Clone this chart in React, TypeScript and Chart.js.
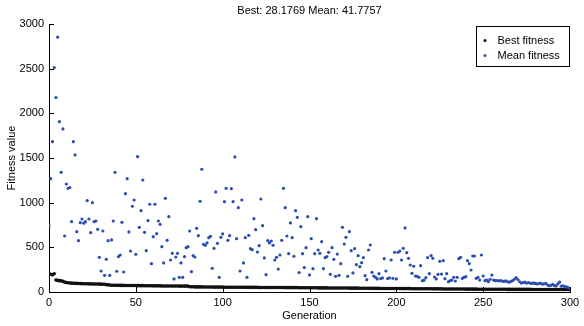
import React, { useEffect, useRef } from "react";
import { Chart, registerables } from "chart.js";

Chart.register(...registerables);

const TITLE = "Best: 28.1769 Mean: 41.7757";
const X_LABEL = "Generation";
const Y_LABEL = "Fitness value";
const LEGEND_LABELS = ["Best fitness", "Mean fitness"];
const X_TICKS = [0, 50, 100, 150, 200, 250, 300];
const Y_TICKS = [0, 500, 1000, 1500, 2000, 2500, 3000];

const meanFitness: number[] = [
  742, 1269, 1683, 2512, 2176, 2852, 1907, 1340, 1825, 627,
  1209, 1161, 1170, 787, 1683, 1534, 675, 575, 776, 817,
  770, 787, 1023, 817, 664, 1000, 787, 795, 702, 388,
  235, 683, 187, 366, 575, 187, 583, 795, 1340, 232,
  396, 414, 780, 224, 1101, 1269, 672, 459, 960, 1030,
  422, 1515, 724, 910, 1254, 668, 463, 799, 982, 317,
  619, 982, 653, 795, 758, 507, 325, 1049, 579, 843,
  358, 433, 146, 392, 433, 164, 325, 164, 396, 496,
  507, 683, 227, 407, 392, 713, 630, 1015, 1374, 534,
  523, 549, 608, 623, 265, 489, 1120, 545, 164, 612,
  650, 1011, 1161, 579, 630, 1157, 1011, 1512, 597, 944,
  235, 1030, 325, 608, 164, 634, 485, 474, 821, 698,
  448, 519, 1041, 743, 381, 194, 575, 549, 571, 523,
  358, 388, 257, 414, 579, 1161, 944, 627, 429, 773,
  608, 400, 910, 836, 217, 731, 429, 273, 496, 843,
  191, 597, 261, 429, 821, 470, 433, 563, 261, 384,
  396, 444, 198, 496, 366, 176, 425, 187, 317, 724,
  537, 612, 176, 675, 463, 213, 485, 306, 407, 284,
  328, 384, 183, 138, 470, 526, 220, 179, 164, 146,
  205, 150, 157, 373, 235, 150, 157, 358, 153, 444,
  146, 444, 459, 358, 489, 717, 440, 377, 302, 209,
  288, 179, 175, 164, 295, 127, 134, 160, 384, 205,
  407, 377, 168, 146, 198, 343, 201, 351, 149, 205,
  116, 127, 134, 164, 123, 164, 373, 388, 153, 164,
  172, 351, 317, 246, 403, 403, 153, 164, 134, 414,
  179, 127, 134, 116, 142, 190, 134, 128, 128, 125,
  128, 122, 118, 125, 115, 110, 120, 128, 145, 160,
  140, 115, 100, 105, 110, 98, 105, 100, 95, 102,
  96, 90, 95, 100, 88, 92, 98, 80, 70, 75,
  85, 72, 68, 90, 110, 65, 70, 60, 58, 50,
  41.7757,
];

const bestFitness: number[] = [
  205, 198, 192, 205,
  135, 130, 127, 124, 120,
  110, 106, 103, 101, 99, 98, 97, 96, 95, 94, 94, 93,
  92, 92, 91, 91, 90, 90, 89, 89, 88, 88, 87, 86, 82, 80, 78,
  76, 76, 75, 75, 75, 74, 74, 74, 73, 73,
  73, 72, 72, 72, 72, 71, 71, 71, 71, 70,
  70, 70, 70, 70, 69, 69, 69, 69, 69, 68,
  68, 68, 68, 68, 67, 67, 67, 67, 67, 66,
  66, 66, 66, 66, 66,
  58, 58, 58, 57, 57, 57, 57, 57, 56, 56,
  56, 56, 56, 56, 55, 55, 55, 55, 55, 55,
  54, 54, 54, 54, 54, 54, 53, 53, 53, 53,
  53, 53, 53, 52, 52, 52, 52, 52, 52, 52,
  51, 51, 51, 51, 51, 51, 51, 50, 50, 50,
  50, 50, 50, 50, 50, 49, 49, 49, 49, 49,
  49, 49, 49, 48, 48, 48, 48, 48, 48, 48,
  47, 47, 47, 47, 46, 46, 46, 46, 46, 46,
  45, 45, 45, 45, 45, 45, 44, 44, 44, 44,
  44, 44, 43, 43, 43, 43, 43, 43, 42, 42,
  42, 42, 42, 42, 41, 41, 41, 41, 41, 41,
  40, 40, 40, 40, 40, 40, 39, 39, 39, 39,
  39, 39, 38, 38, 38, 38, 38, 38, 37, 37,
  37, 37, 37, 37, 36, 36, 36, 36, 36, 36,
  35, 35, 35, 35, 35, 35, 34, 34, 34, 34,
  34, 34, 33, 33, 33, 33, 33, 33, 33, 32,
  32, 32, 32, 32, 32, 32, 31, 31, 31, 31,
  31, 31, 31, 31, 30, 30, 30, 30, 30, 30,
  30, 30, 30, 29, 29, 29, 29, 29, 29, 29,
  29, 29, 29, 29, 29, 29, 28.9, 28.8, 28.7, 28.6,
  28.6, 28.5, 28.5, 28.4, 28.4, 28.4, 28.3, 28.3, 28.3, 28.3,
  28.3, 28.2, 28.2, 28.2, 28.2, 28.2, 28.2, 28.2, 28.2, 28.1769,
];

const BLUE = "#2b4fae";
const BLACK = "#111111";
const FONT = "'Liberation Sans', Arial, sans-serif";

const toPoints = (vals: number[]) => vals.map((v, i) => ({ x: i, y: v }));

const decorPlugin = {
  id: "matlabDecor",
  afterDraw(chart: any) {
    const ctx = chart.ctx as CanvasRenderingContext2D;
    const area = chart.chartArea;
    const xs = chart.scales.x;
    const ys = chart.scales.y;
    ctx.save();
    ctx.strokeStyle = "#000";
    ctx.lineWidth = 1;
    ctx.beginPath();
    for (const t of X_TICKS) {
      const px = Math.round(xs.getPixelForValue(t)) + 0.5;
      ctx.moveTo(px, area.bottom);
      ctx.lineTo(px, area.bottom - 5);
    }
    for (const t of Y_TICKS) {
      const py = Math.round(ys.getPixelForValue(t)) + 0.5;
      ctx.moveTo(area.left, py);
      ctx.lineTo(area.left + 5, py);
    }
    ctx.stroke();

    ctx.fillStyle = "#000";
    ctx.font = `11px ${FONT}`;
    ctx.textAlign = "center";
    ctx.textBaseline = "middle";
    ctx.fillText(TITLE, (area.left + area.right) / 2, 11);
    ctx.fillText(X_LABEL, (area.left + area.right) / 2, 316);
    ctx.save();
    ctx.translate(12, (area.top + area.bottom) / 2);
    ctx.rotate(-Math.PI / 2);
    ctx.fillText(Y_LABEL, 0, 0);
    ctx.restore();

    const lx = 476.5, ly = 26.5, lw = 93, lh = 40;
    ctx.fillStyle = "#fff";
    ctx.fillRect(lx, ly, lw, lh);
    ctx.strokeStyle = "#000";
    ctx.strokeRect(lx, ly, lw, lh);
    const colors = [BLACK, BLUE];
    LEGEND_LABELS.forEach((lab, i) => {
      const y = ly + 14 + i * 15;
      ctx.fillStyle = colors[i];
      ctx.beginPath();
      ctx.arc(lx + 8.5, y, 1.5, 0, Math.PI * 2);
      ctx.fill();
      ctx.fillStyle = "#000";
      ctx.textAlign = "left";
      ctx.fillText(lab, lx + 21, y);
    });
    ctx.restore();
  },
};

export default function App() {
  const ref = useRef<HTMLCanvasElement | null>(null);
  useEffect(() => {
    document.body.style.margin = "0";
    const canvas = ref.current;
    if (!canvas) return;
    const chart = new Chart(canvas, {
      type: "scatter",
      data: {
        datasets: [
          {
            label: LEGEND_LABELS[1],
            data: toPoints(meanFitness),
            backgroundColor: BLUE,
            borderWidth: 0,
            pointRadius: 1.6,
            order: 1,
          },
          {
            label: LEGEND_LABELS[0],
            data: toPoints(bestFitness),
            backgroundColor: BLACK,
            borderWidth: 0,
            pointRadius: 1.8,
            order: 2,
          },
        ],
      },
      options: {
        responsive: false,
        animation: false,
        devicePixelRatio: 1,
        layout: { padding: { left: 0, top: 24, right: 14, bottom: 0 } },
        plugins: {
          legend: { display: false },
          title: { display: false },
          tooltip: { enabled: false },
        },
        scales: {
          x: {
            type: "linear",
            min: 0,
            max: 300,
            afterBuildTicks: (s: any) => {
              s.ticks = X_TICKS.map((v) => ({ value: v }));
            },
            afterFit: (s: any) => {
              s.height = 34;
            },
            grid: { display: true, drawOnChartArea: false, drawTicks: false },
            border: { display: true, color: "#000", width: 1 },
            ticks: {
              color: "#000",
              padding: 4,
              maxRotation: 0,
              font: { family: FONT, size: 11 },
              callback: (v: any) => String(v),
            },
          },
          y: {
            type: "linear",
            min: 0,
            max: 3000,
            afterBuildTicks: (s: any) => {
              s.ticks = Y_TICKS.map((v) => ({ value: v }));
            },
            afterFit: (s: any) => {
              s.width = 49;
            },
            grid: { display: true, drawOnChartArea: false, drawTicks: false },
            border: { display: true, color: "#000", width: 1 },
            ticks: {
              color: "#000",
              padding: 5,
              font: { family: FONT, size: 11 },
              callback: (v: any) => String(v),
            },
          },
        },
      },
      plugins: [decorPlugin],
    });
    return () => chart.destroy();
  }, []);
  return <canvas ref={ref} width={584} height={326} style={{ display: "block" }} />;
}
